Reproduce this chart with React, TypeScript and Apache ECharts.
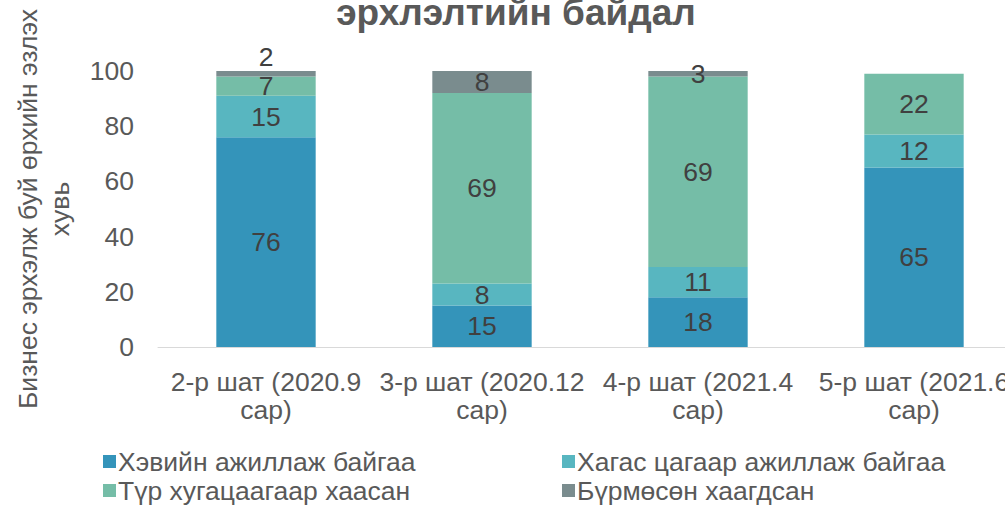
import React, { useEffect, useRef } from "react";
import * as echarts from "echarts";

const categories = [
  "2-р шат (2020.9\nсар)",
  "3-р шат (2020.12\nсар)",
  "4-р шат (2021.4\nсар)",
  "5-р шат (2021.6\nсар)",
];
const seriesNames = [
  "Хэвийн ажиллаж байгаа",
  "Хагас цагаар ажиллаж байгаа",
  "Түр хугацаагаар хаасан",
  "Бүрмөсөн хаагдсан",
];
const normalValues = [76, 15, 18, 65];
const partTimeValues = [15, 8, 11, 12];
const tempClosedValues = [7, 69, 69, 22];
const permClosedValues = [2, 8, 3, 0];
const colors = ["#3494BA", "#58B6C0", "#75BDA7", "#7A8C8E"];
const titleText = "эрхлэлтийн байдал";
const yAxisName = "Бизнес эрхэлж буй өрхийн эзлэх\nхувь";

const FONT = "'Liberation Sans', Arial, sans-serif";
const FS = 26.5;

export default function App() {
  const ref = useRef<HTMLDivElement>(null);
  useEffect(() => {
    document.body.style.margin = "0";
    const chart = echarts.init(ref.current!, null, { renderer: "svg" });
    const all = [normalValues, partTimeValues, tempClosedValues, permClosedValues];
    const series = all.map((vals, si) => ({
      name: seriesNames[si],
      type: "bar",
      stack: "total",
      barWidth: "46%",
      itemStyle: { color: colors[si] },
      label: {
        show: true,
        position: "inside",
        color: "#404040",
        fontSize: FS,
        fontFamily: FONT,
        formatter: (p: any) => (p.value ? String(p.value) : ""),
      },
      data: vals.map((v, i) =>
        si === 3 && i === 0
          ? { value: v, label: { position: "top", distance: 1 } }
          : v
      ),
    }));
    const legendCommon = {
      top: 448,
      height: 60,
      orient: "vertical",
      padding: 0,
      itemWidth: 13,
      itemHeight: 13,
      itemGap: 2,
      icon: "rect",
      textStyle: {
        color: "#595959",
        fontSize: FS,
        lineHeight: 24,
        fontFamily: FONT,
        padding: [0, 0, 0, -3],
      },
    };
    chart.setOption({
      animation: false,
      textStyle: { fontFamily: FONT },
      graphic: [
        {
          type: "text",
          x: 516,
          y: 12,
          style: {
            text: titleText,
            textAlign: "center",
            textVerticalAlign: "middle",
            fontSize: 37,
            fontWeight: "bold",
            fill: "#595959",
            fontFamily: FONT,
          },
        },
      ],
      grid: {
        left: 158,
        right: -17,
        top: 71,
        bottom: 158,
        containLabel: false,
        outerBoundsMode: "none",
      },
      xAxis: {
        type: "category",
        data: categories,
        axisLine: { lineStyle: { color: "#D9D9D9", width: 1 } },
        axisTick: { show: false },
        axisLabel: {
          interval: 0,
          color: "#595959",
          fontSize: FS,
          lineHeight: 28,
          margin: 21,
          fontFamily: FONT,
        },
      },
      yAxis: {
        type: "value",
        min: 0,
        max: 100,
        interval: 20,
        splitLine: { show: false },
        axisLine: { show: false },
        axisTick: { show: false },
        axisLabel: { color: "#595959", fontSize: FS, margin: 24, fontFamily: FONT },
        name: yAxisName,
        nameLocation: "middle",
        nameRotate: 90,
        nameGap: 82,
        nameTextStyle: {
          color: "#595959",
          fontSize: FS,
          lineHeight: 32,
          align: "center",
          fontFamily: FONT,
        },
      },
      legend: [
        { ...legendCommon, left: 103, data: [seriesNames[0], seriesNames[2]] },
        { ...legendCommon, left: 562, data: [seriesNames[1], seriesNames[3]] },
      ],
      series,
    });
    return () => chart.dispose();
  }, []);
  return (
    <div
      ref={ref}
      style={{ position: "absolute", left: 0, top: 0, width: 1005, height: 505 }}
    />
  );
}
